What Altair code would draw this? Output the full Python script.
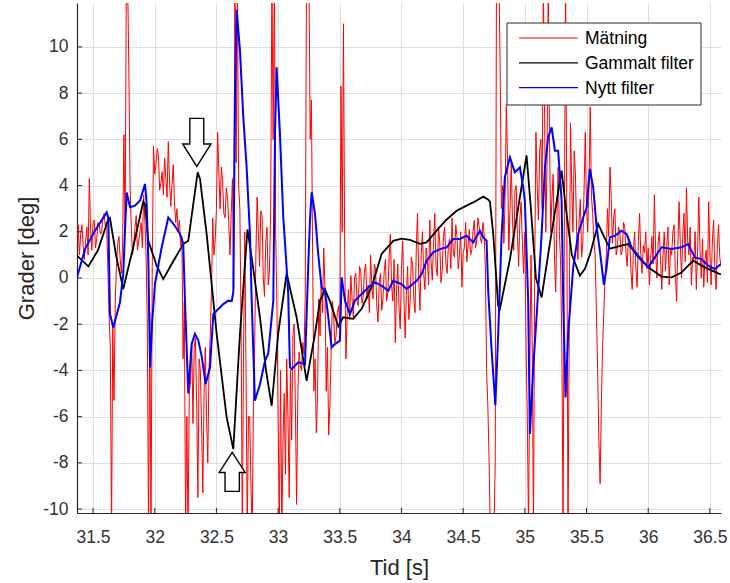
import altair as alt
import pandas as pd

# ---------------- data ----------------
series_names = ["Mätning", "Gammalt filter", "Nytt filter"]
series_colors = ["#ff0000", "#000000", "#0000ff"]

# Mätning: raw measurement, sampled every 0.01 s from 31.37 s
meas_t0 = 31.37
meas_dt = 0.01
meas_y = [
    1.8, 2.3, 1.0, 1.9, 2.3, 1.4, 0.8, 1.6, 2.2, 1.0, 4.3, 2.1, 1.2, 2.4, 2.5, 1.3, 1.7, 2.4, 2.3, 1.9,
    2.0, 2.6, 2.8, 2.2, 2.4, 0.5, -1.6, -3.0, -11.0, -2.0, -5.3, -1.0, 0.5, 1.5, 1.8, 0.8, 0.2, 1.5, 6.2, 2.0,
    13.0, 13.0, 9.1, 4.0, 2.2, 1.0, 1.4, 2.2, 2.7, 1.2, 1.6, 2.0, 2.4, 1.3, 3.6, 2.5, 1.0, -2.0, -11.0, -1.5,
    -11.0, 0.5, 5.7, 4.5, 4.9, 5.6, 5.3, 3.8, 4.1, 4.6, 3.6, 5.2, 4.3, 3.5, 5.9, 4.2, 3.1, 4.0, 4.9, 3.3,
    2.4, 3.0, 2.0, 2.5, 1.4, 1.8, -3.5, -1.0, -11.0, -6.0, -11.0, -5.0, -4.5, -2.8, -6.3, -3.0, -2.6, -5.5, -9.5, -3.5,
    -4.0, -6.5, -9.3, -5.0, -3.0, -6.0, -8.0, -4.0, -2.5, -0.5, 2.6, 1.0, 1.6, 3.0, 6.3, 4.5, 3.0, 4.8, 4.2, 2.8,
    2.6, 3.9, 3.5, 2.4, 1.0, 2.8, 4.3, -0.5, 13.0, 5.0, 13.0, 4.0, 3.0, -2.0, -11.0, -3.0, 2.0, -4.0, -11.0, -6.0,
    -6.0, -9.0, -11.0, -5.5, -3.0, 1.0, 3.5, 2.0, 0.5, 2.9, 2.7, 0.0, -0.8, 1.5, 2.2, -0.3, 0.3, 3.0, 13.0, 6.0,
    13.0, 2.0, -1.0, -6.0, -11.0, -4.0, -11.0, -7.0, -5.0, -8.5, -3.5, -6.0, -9.5, -4.0, -7.0, -2.5, -2.0, -5.5, -9.8, -5.0,
    -3.2, -3.8, -4.0, -2.8, -3.3, -0.8, 13.0, 13.0, 13.0, 6.0, 7.7, 1.0, -4.9, -3.5, -6.7, -5.0, -0.9, -2.5, -0.1, -1.5,
    1.3, -0.5, -4.9, -3.0, -6.8, -5.5, -3.2, -1.0, -1.6, -2.8, -2.5, -1.5, -1.2, -2.0, 8.3, 2.0, 11.0, 1.0, -3.5, -1.5,
    -0.5, -1.8, 0.1, -0.9, -1.7, 0.0, 0.2, -1.0, -1.2, 0.5, 0.3, -1.1, -0.8, 0.3, 0.6, -0.9, -0.3, -1.5, 1.0, -0.4,
    -0.9, 0.6, 0.4, -1.2, -1.9, -0.2, 0.2, -1.4, -0.9, 0.3, 0.8, -1.0, -0.6, 0.9, 1.9, -0.3, -1.0, 0.8, -2.8, -0.5,
    0.6, -1.3, -2.2, 0.4, 1.6, -0.8, -2.6, -0.7, 0.5, -1.8, -1.0, 0.9, 0.6, -0.9, -1.5, 1.2, 2.8, 0.0, -1.4, 1.0,
    2.0, 0.2, -0.5, 1.3, 0.8, -0.3, 2.5, 0.7, -0.1, 1.5, 2.8, 0.5, 0.1, 2.2, 1.6, -0.2, 0.3, 1.8, 2.2, 0.6,
    0.2, 1.4, 1.7, 0.4, 2.6, 1.1, 0.9, 2.3, 1.8, 0.4, 1.0, 2.0, -0.4, 1.1, 1.3, 2.4, 0.7, 1.4, 2.1, 1.0,
    1.2, 2.0, 2.5, 1.3, 1.6, 2.6, 2.2, 1.7, 1.5, 2.4, 1.9, 0.5, -4.0, -5.5, -7.8, -11.0, -11.0, -11.0, -11.0, -8.0,
    13.0, 13.0, 13.0, 9.0, 3.0, 4.0, 1.5, 3.5, 7.5, 5.0, 1.2, 3.0, 5.0, 2.5, 1.2, 3.8, 4.0, 1.8, 0.5, 2.6,
    3.3, 1.5, 0.2, 2.0, -3.0, -6.0, -11.0, -4.0, 1.0, -3.0, -11.0, 0.5, 6.3, 4.0, 2.5, 5.5, 6.0, 3.0, 13.0, 7.0,
    2.0, 5.0, 13.0, 6.0, 2.0, 3.5, 4.5, 1.0, -0.6, 2.5, 4.8, 2.0, 0.6, -3.0, -11.0, 2.0, 13.0, 3.0, -11.0, -2.0,
    6.7, 4.0, 2.0, 5.5, 4.5, 2.0, 0.8, 2.5, 3.4, 0.9, 1.5, 3.8, 6.3, 3.0, 2.0, 4.0, 7.4, 3.5, 2.8, 1.5,
    1.0, -1.5, -4.0, -7.0, -8.9, -5.5, -3.0, -1.5, 0.0, 1.0, 3.0, 1.8, 4.8, 3.5, 1.5, 2.6, 3.0, 1.0, 1.3, 2.2,
    2.0, 1.0, 1.2, 2.4, 2.2, 1.1, 0.5, 1.8, 1.6, 0.3, -0.5, 1.2, 2.0, 0.4, -0.4, 1.5, 2.8, 1.0, 0.2, 1.4,
    1.1, 2.0, 0.4, 1.3, -0.3, 0.8, 1.8, 0.6, 3.6, 1.2, 0.0, 1.5, 2.0, 0.8, -0.5, 1.0, 2.0, 0.3, 1.4, 2.2,
    -0.3, 1.2, 1.0, 2.0, 2.3, 0.2, -1.0, 1.3, 3.3, 1.5, 0.0, 1.8, 2.8, 0.7, 3.9, 1.6, 1.0, 2.2, -0.3, 0.9,
    0.8, 2.0, -0.5, 1.1, 3.5, 1.2, 0.0, 1.7, -0.4, 0.8, 1.2, -0.2, 3.3, 1.0, -0.3, 1.6, 2.5, 0.4, -0.5, 1.3,
    2.3, 0.9, 0.5,
]
meas_t = [round(meas_t0 + meas_dt * i, 3) for i in range(len(meas_y))]

# Gammalt filter
old_t = [
    31.370, 31.462, 31.540, 31.624, 31.637, 31.686, 31.745, 31.824, 31.907, 31.921,
    31.948, 32.016, 32.069, 32.148, 32.231, 32.272, 32.302, 32.348, 32.367, 32.421,
    32.502, 32.583, 32.637, 32.691, 32.752, 32.796, 32.853, 32.902, 32.948, 33.001,
    33.069, 33.150, 33.231, 33.299, 33.339, 33.380, 33.420, 33.488, 33.528, 33.609,
    33.677, 33.758, 33.839, 33.933, 34.001, 34.068, 34.150, 34.204, 34.285, 34.360,
    34.447, 34.528, 34.581, 34.663, 34.701, 34.717, 34.744, 34.784, 34.798, 34.879,
    34.960, 35.014, 35.049, 35.090, 35.136, 35.203, 35.298, 35.333, 35.381, 35.446,
    35.487, 35.527, 35.594, 35.641, 35.689, 35.784, 35.838, 35.919, 36.000, 36.108,
    36.189, 36.270, 36.364, 36.459, 36.567, 36.589,
]
old_y = [
    0.97, 0.5, 1.2, 2.55, 2.6, 1.0, -0.48, 1.3, 3.3, 3.2,
    1.61, 0.53, -0.05, 0.7, 1.47, 1.61, 2.8, 4.57, 4.3, 1.9,
    -2.42, -6.03, -7.4, -2.4, 2.1, 0.5, -1.7, -4.0, -5.53, -2.4,
    0.2, -1.7, -4.45, -2.42, -1.0, -0.5, -1.0, -2.1, -1.7, -1.77,
    -1.33, -0.4, 1.04, 1.61, 1.7, 1.65, 1.48, 1.54, 2.05, 2.5,
    2.91, 3.13, 3.27, 3.52, 3.4, 3.3, 1.9, -1.2, -1.34, 0.8,
    3.5, 5.3, 3.0, 0.0, -0.84, 1.5, 4.65, 3.0, 1.0, 0.1,
    0.4, 1.0, 2.34, 1.8, 1.27, 1.4, 1.47, 0.9, 0.46, 0.06,
    0.03, 0.24, 0.75, 0.46, 0.2, 0.15,
]

# Nytt filter
new_t = [
    31.370, 31.435, 31.516, 31.611, 31.624, 31.637, 31.664, 31.718, 31.745, 31.759,
    31.773, 31.800, 31.840, 31.881, 31.921, 31.935, 31.948, 31.962, 31.980, 32.002,
    32.056, 32.110, 32.164, 32.205, 32.231, 32.245, 32.272, 32.299, 32.326, 32.353,
    32.381, 32.413, 32.448, 32.475, 32.502, 32.556, 32.596, 32.624, 32.637, 32.650,
    32.664, 32.691, 32.718, 32.745, 32.772, 32.786, 32.812, 32.853, 32.894, 32.920,
    32.961, 32.975, 32.988, 33.015, 33.042, 33.069, 33.082, 33.096, 33.110, 33.163,
    33.218, 33.244, 33.258, 33.272, 33.299, 33.325, 33.353, 33.380, 33.407, 33.434,
    33.461, 33.501, 33.515, 33.542, 33.582, 33.623, 33.677, 33.731, 33.785, 33.839,
    33.893, 33.933, 34.001, 34.042, 34.123, 34.163, 34.204, 34.257, 34.312, 34.366,
    34.419, 34.474, 34.528, 34.581, 34.636, 34.663, 34.690, 34.703, 34.731, 34.761,
    34.784, 34.812, 34.838, 34.879, 34.919, 34.960, 34.987, 35.000, 35.027, 35.041,
    35.068, 35.095, 35.136, 35.163, 35.189, 35.217, 35.244, 35.270, 35.298, 35.311,
    35.330, 35.351, 35.392, 35.432, 35.473, 35.501, 35.527, 35.554, 35.582, 35.608,
    35.641, 35.663, 35.689, 35.730, 35.784, 35.825, 35.865, 35.919, 36.000, 36.054,
    36.108, 36.189, 36.270, 36.324, 36.378, 36.432, 36.486, 36.540, 36.589,
]
new_y = [
    0.03, 1.25, 2.05, 2.84, 2.6, -1.55, -2.14, -1.06, 0.17, 2.05,
    3.7, 3.06, 3.13, 3.35, 4.07, 3.2, 0.75, -3.87, -1.85, -0.26,
    1.32, 2.62, 2.25, 1.9, 1.5, -0.98, -5.0, -2.86, -2.42, -2.7,
    -3.4, -4.59, -3.87, -1.56, -1.42, -1.13, -0.98, -1.0, -0.6, 7.7,
    11.6, 9.84, 6.95, 4.79, 1.9, -0.98, -5.31, -4.6, -3.58, -3.28,
    -0.98, 6.23, 9.12, 6.23, 2.62, 0.46, -0.69, -3.87, -3.94, -3.65,
    -3.72, 0.46, 2.48, 3.71, 2.77, 1.04, -0.41, -0.55, -1.7, -3.0,
    -2.86, -2.71, 0.03, -0.98, -1.56, -0.98, -0.69, -0.41, -0.19, -0.33,
    -0.55, -0.12, -0.26, -0.48, -0.12, 0.17, 0.75, 1.11, 1.25, 1.33,
    1.69, 1.69, 1.83, 1.54, 2.05, 1.76, 1.61, -0.55, -3.15, -5.5,
    -2.42, 1.9, 4.36, 5.22, 4.57, 4.79, 3.92, 3.35, -0.98, -6.75,
    -3.87, -1.7, 1.9, 4.79, 6.09, 6.52, 5.51, 5.51, 3.35, -0.98,
    -5.17, -2.42, 0.46, 1.9, 2.62, 3.06, 4.72, 3.92, 2.19, 1.18,
    -0.3, 0.46, 1.76, 1.83, 2.05, 1.9, 1.33, 0.97, 0.46, 0.89,
    1.33, 1.25, 1.33, 1.47, 0.89, 0.82, 0.53, 0.39, 0.6,
]

# annotation arrows (data coordinates of arrow centres)
arrow_down_t, arrow_down_v = [32.341], [5.87]
arrow_up_t, arrow_up_v = [32.628], [-8.39]

x_ticks = [31.5, 32, 32.5, 33, 33.5, 34, 34.5, 35, 35.5, 36, 36.5]
y_ticks = [-10, -8, -6, -4, -2, 0, 2, 4, 6, 8, 10]
x_domain = [31.37, 36.59]
y_domain = [-10.17, 11.9]

# ---------------- chart ----------------
FONT = "Liberation Sans"
AX = "#262626"

xs = alt.Scale(domain=x_domain, nice=False, zero=False)
ys = alt.Scale(domain=y_domain, nice=False, zero=False)

x_axis = alt.Axis(values=x_ticks, labelExpr="'' + datum.value", title="Tid [s]", tickSize=0,
                  labelPadding=15, titlePadding=12, grid=True)
y_axis = alt.Axis(values=y_ticks, labelExpr="'' + datum.value", title="Grader [deg]", tickSize=0,
                  labelPadding=9, titlePadding=4, grid=True)


def X(field):
    return alt.X(field, type="quantitative", scale=xs, axis=x_axis)


def Y(field):
    return alt.Y(field, type="quantitative", scale=ys, axis=y_axis)


df_meas = pd.DataFrame({"t": meas_t, "v": meas_y})
df_old = pd.DataFrame({"t": old_t, "v": old_y})
df_new = pd.DataFrame({"t": new_t, "v": new_y})

meas_line = alt.Chart(df_meas).mark_line(color=series_colors[0], strokeWidth=1, clip=True).encode(
    x=X("t"), y=Y("v"))
old_line = alt.Chart(df_old).mark_line(color=series_colors[1], strokeWidth=1.8, clip=True).encode(
    x=X("t"), y=Y("v"))
new_line = alt.Chart(df_new).mark_line(color=series_colors[2], strokeWidth=2, clip=True).encode(
    x=X("t"), y=Y("v"))

# inward ticks (MATLAB style)
x_tick_marks = alt.Chart(pd.DataFrame({"t": x_ticks})).mark_rule(color=AX, strokeWidth=1).encode(
    x=X("t"), y=alt.value(510), y2=alt.value(505))
y_tick_marks = alt.Chart(pd.DataFrame({"v": y_ticks})).mark_rule(color=AX, strokeWidth=1).encode(
    y=Y("v"), x=alt.value(0), x2=alt.value(5))

down_path = "M -0.29 -1 L 0.29 -1 L 0.29 0.067 L 0.59 0.067 L 0 1 L -0.59 0.067 L -0.29 0.067 Z"
up_path = "M 0 -1 L 0.667 0.03 L 0.367 0.03 L 0.367 1 L -0.367 1 L -0.367 0.03 L -0.667 0.03 Z"
arrow_down = alt.Chart(pd.DataFrame({"t": arrow_down_t, "v": arrow_down_v})).mark_point(
    shape=down_path, size=2304, filled=True, fill="white", stroke="black", strokeWidth=1.4, opacity=1
).encode(x=X("t"), y=Y("v"))
arrow_up = alt.Chart(pd.DataFrame({"t": arrow_up_t, "v": arrow_up_v})).mark_point(
    shape=up_path, size=1521, filled=True, fill="white", stroke="black", strokeWidth=1.4, opacity=1
).encode(x=X("t"), y=Y("v"))

# legend (drawn manually, MATLAB style box)
one = pd.DataFrame({"a": [0]})
legend_layers = [
    alt.Chart(one).mark_rect(fill="white", stroke=AX, strokeWidth=1).encode(
        x=alt.value(430), x2=alt.value(624), y=alt.value(20), y2=alt.value(102))
]
for i, (name, col) in enumerate(zip(series_names, series_colors)):
    yy = 35 + 24.8 * i
    legend_layers.append(
        alt.Chart(one).mark_rule(color=col, strokeWidth=1.2).encode(
            x=alt.value(442), x2=alt.value(501), y=alt.value(yy)))
    legend_layers.append(
        alt.Chart(one).mark_text(text=name, align="left", baseline="middle", font=FONT,
                                 fontSize=17.5, color="#000000").encode(
            x=alt.value(508), y=alt.value(yy + 1)))

chart = alt.layer(
    meas_line, old_line, new_line, x_tick_marks, y_tick_marks, arrow_down, arrow_up,
    *legend_layers
).properties(
    width=644, height=510,
    padding={"left": 77, "top": 3, "right": 9, "bottom": 70},
    autosize=alt.AutoSizeParams(type="none"),
    background="white",
).configure_view(
    stroke=None
).configure_axis(
    labelFont=FONT, titleFont=FONT, labelFontSize=17.5, titleFontSize=22,
    labelColor="#333333", titleColor=AX, titleFontWeight="normal",
    domainColor=AX, domainWidth=1.2, gridColor="#dedede", gridWidth=1, gridOpacity=1,
)

chart.save("out.html", embed_options={"renderer": "svg", "actions": False})
